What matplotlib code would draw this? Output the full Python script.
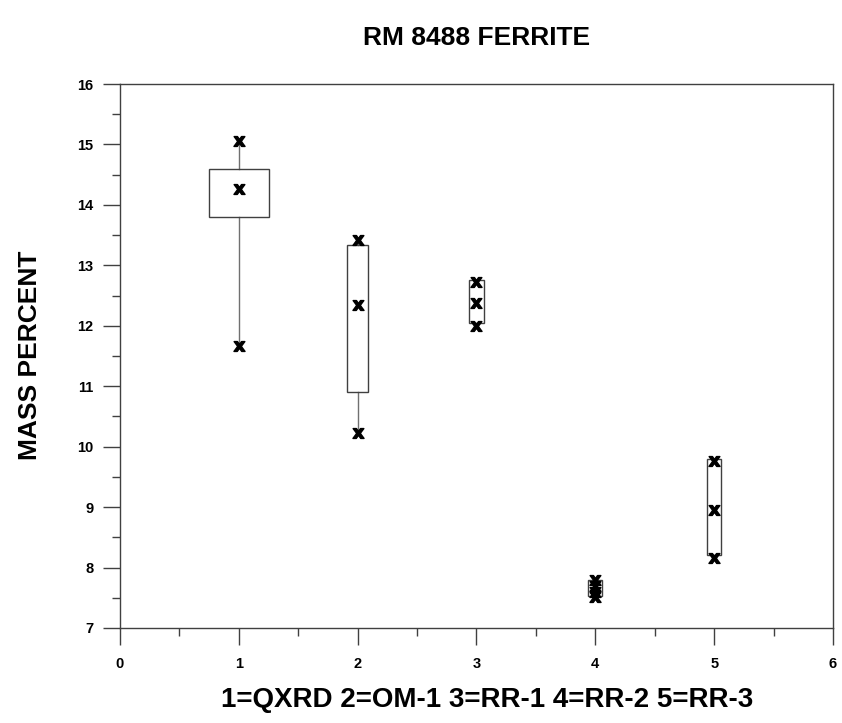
import numpy as np
import matplotlib
matplotlib.use('Agg')
import matplotlib.pyplot as plt
from matplotlib.patches import Rectangle

matplotlib.rcParams['font.family'] = ['Liberation Sans', 'DejaVu Sans']
matplotlib.rcParams['font.weight'] = 'bold'
matplotlib.rcParams['xtick.direction'] = 'out'
matplotlib.rcParams['ytick.direction'] = 'out'

# methods: 1=QXRD 2=OM-1 3=RR-1 4=RR-2 5=RR-3
groups = [1, 2, 3, 4, 5]
points = [
    [15.05, 14.27, 11.66],
    [13.42, 12.35, 10.22],
    [12.73, 12.37, 11.99],
    [7.80, 7.69, 7.59, 7.51],
    [9.76, 8.95, 8.16],
]
box_low = [13.80, 10.91, 12.04, 7.53, 8.21]
box_high = [14.60, 13.34, 12.76, 7.79, 9.80]
box_halfwidth = [0.25, 0.09, 0.06, 0.06, 0.06]

fig = plt.figure(figsize=(8.42, 7.23), dpi=100)
ax = fig.add_axes([0.1425, 0.1314, 0.8468, 0.7524])

for g, pts, lo, hi, hw in zip(groups, points, box_low, box_high, box_halfwidth):
    pmin, pmax = min(pts), max(pts)
    # whiskers out to the extreme values
    if pmax > hi:
        ax.plot([g, g], [hi, pmax], color='#707070', lw=1.0, zorder=2)
    if pmin < lo:
        ax.plot([g, g], [pmin, lo], color='#707070', lw=1.0, zorder=2)
    ax.add_patch(Rectangle((g - hw, lo), 2 * hw, hi - lo, fill=False,
                           edgecolor='#404040', lw=1.0, zorder=2))
    ax.plot([g] * len(pts), pts, linestyle='none', marker=r'$\mathbf{x}$',
            markersize=8, color='black', zorder=3)

ax.set_xlim(0, 6)
ax.set_ylim(7, 16)
ax.set_xticks(np.arange(0, 7, 1))
ax.set_xticks(np.arange(0.5, 6, 1), minor=True)
ax.set_yticks(np.arange(7, 17, 1))
ax.set_yticks(np.arange(7.5, 16, 1), minor=True)
ax.tick_params(which='major', length=12, width=1.0, color='#404040',
               labelsize=10.5)
ax.tick_params(which='minor', length=6, width=1.0, color='#404040')
ax.tick_params(axis='x', which='major', pad=9)
ax.tick_params(axis='y', which='major', pad=7)
for lab in ax.get_xticklabels() + ax.get_yticklabels():
    lab.set_fontweight('bold')
for s in ax.spines.values():
    s.set_color('#404040')
    s.set_linewidth(1.0)

fig.text(0.566, 0.947, 'RM 8488 FERRITE', ha='center', va='center',
         fontsize=19, fontweight='bold')
fig.text(0.036, 0.508, 'MASS PERCENT', ha='center', va='center',
         rotation=90, fontsize=19, fontweight='bold')
fig.text(0.578, 0.032, '1=QXRD 2=OM-1 3=RR-1 4=RR-2 5=RR-3', ha='center',
         va='center', fontsize=20, fontweight='bold')

fig.savefig('out.png', dpi=100)
